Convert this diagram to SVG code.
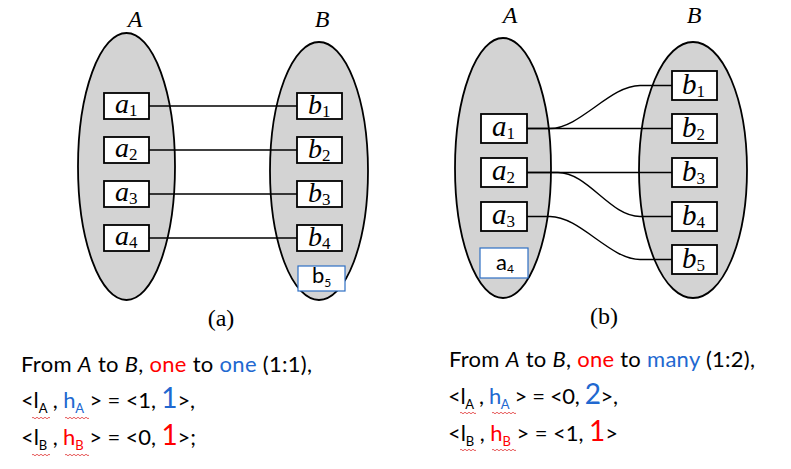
<svg xmlns="http://www.w3.org/2000/svg" width="791" height="469" viewBox="0 0 791 469">
<style>
.set{fill:#d3d3d3;stroke:#000;stroke-width:1.8}
.box{fill:#fff;stroke:#000;stroke-width:1.8}
.bbox{fill:#fff;stroke:#2e6fc4;stroke-width:1.2}
.con{fill:none;stroke:#000;stroke-width:1.4}
.math{font-family:"Liberation Serif","Times New Roman",serif;font-style:italic;fill:#000}
.sub{font-style:normal}
.cap{font-family:"Liberation Serif","Times New Roman",serif;font-size:24px;fill:#000}
.t{font-family:Lato,"Open Sans","Liberation Sans",sans-serif;font-size:22px;fill:#000;white-space:pre}
.s{font-size:13px}
.big{font-size:28px}
.i{font-style:italic}
.r{fill:#ff0000}
.b{fill:#2168d0}
.sq{fill:none;stroke:#e03030;stroke-width:0.8}
</style>
<rect width="791" height="469" fill="#fff"/>

<!-- Diagram (a) -->
<g id="setA_a"><ellipse class="set" cx="126.5" cy="166.5" rx="48.5" ry="133.5"/>
<text class="math" x="135" y="27" font-size="24" text-anchor="middle">A</text></g>
<g id="setB_a"><ellipse class="set" cx="319" cy="171" rx="49" ry="129"/>
<text class="math" x="322" y="27" font-size="24" text-anchor="middle">B</text></g>

<g id="connectors_a">
<line class="con" x1="149" y1="106" x2="297" y2="106"/>
<line class="con" x1="149" y1="150" x2="297" y2="150"/>
<line class="con" x1="149" y1="194" x2="297" y2="194"/>
<line class="con" x1="149" y1="238" x2="297" y2="238"/>
</g>

<g id="a_a1"><rect class="box" x="104" y="93" width="45" height="26"/><text class="math" x="115" y="113" font-size="28">a<tspan class="sub" font-size="17" dy="3">1</tspan></text></g>
<g id="a_a2"><rect class="box" x="104" y="137" width="45" height="26"/><text class="math" x="115" y="157" font-size="28">a<tspan class="sub" font-size="17" dy="3">2</tspan></text></g>
<g id="a_a3"><rect class="box" x="104" y="181" width="45" height="26"/><text class="math" x="115" y="201" font-size="28">a<tspan class="sub" font-size="17" dy="3">3</tspan></text></g>
<g id="a_a4"><rect class="box" x="104" y="225" width="45" height="26"/><text class="math" x="115" y="245" font-size="28">a<tspan class="sub" font-size="17" dy="3">4</tspan></text></g>
<g id="a_b1"><rect class="box" x="297" y="93" width="45" height="26"/><text class="math" x="308" y="114" font-size="28">b<tspan class="sub" font-size="17" dy="3">1</tspan></text></g>
<g id="a_b2"><rect class="box" x="297" y="137" width="45" height="26"/><text class="math" x="308" y="158" font-size="28">b<tspan class="sub" font-size="17" dy="3">2</tspan></text></g>
<g id="a_b3"><rect class="box" x="297" y="181" width="45" height="26"/><text class="math" x="308" y="202" font-size="28">b<tspan class="sub" font-size="17" dy="3">3</tspan></text></g>
<g id="a_b4"><rect class="box" x="297" y="225" width="45" height="26"/><text class="math" x="308" y="246" font-size="28">b<tspan class="sub" font-size="17" dy="3">4</tspan></text></g>
<g id="a_b5"><rect class="bbox" x="298" y="266" width="47" height="25"/><text class="t" x="312" y="283" font-size="17">b<tspan font-size="12" dy="4">5</tspan></text></g>
<text class="cap" x="221" y="326" text-anchor="middle">(a)</text>

<!-- Diagram (b) -->
<g id="setA_b"><ellipse class="set" cx="503" cy="168" rx="48" ry="130"/>
<text class="math" x="510" y="23" font-size="24" text-anchor="middle">A</text></g>
<g id="setB_b"><ellipse class="set" cx="693" cy="170" rx="54" ry="128"/>
<text class="math" x="694" y="23" font-size="24" text-anchor="middle">B</text></g>

<g id="connectors_b">
<path class="con" d="M527 128.5 H672"/>
<path class="con" d="M527 128.5 H550 C580 128.5 610 85.5 640 85.5 H672"/>
<path class="con" d="M527 172.5 H672"/>
<path class="con" d="M527 172.5 H558 C588 172.5 610 216.5 640 216.5 H672"/>
<path class="con" d="M527 216.5 H550 C580 216.5 610 259.5 640 259.5 H672"/>
</g>

<g id="b_a1"><rect class="box" x="481" y="114" width="46" height="29"/><text class="math" x="492" y="136" font-size="29">a<tspan class="sub" font-size="17" dy="3">1</tspan></text></g>
<g id="b_a2"><rect class="box" x="481" y="158" width="46" height="29"/><text class="math" x="492" y="180" font-size="29">a<tspan class="sub" font-size="17" dy="3">2</tspan></text></g>
<g id="b_a3"><rect class="box" x="481" y="202" width="46" height="29"/><text class="math" x="492" y="224" font-size="29">a<tspan class="sub" font-size="17" dy="3">3</tspan></text></g>
<g id="b_a4"><rect class="bbox" x="480" y="248" width="48" height="30"/><text class="t" x="496" y="270" font-size="17">a<tspan font-size="12" dy="3">4</tspan></text></g>
<g id="b_b1"><rect class="box" x="672" y="71" width="45" height="29"/><text class="math" x="682" y="94" font-size="29">b<tspan class="sub" font-size="17" dy="3">1</tspan></text></g>
<g id="b_b2"><rect class="box" x="672" y="114" width="45" height="29"/><text class="math" x="682" y="137" font-size="29">b<tspan class="sub" font-size="17" dy="3">2</tspan></text></g>
<g id="b_b3"><rect class="box" x="672" y="158" width="45" height="29"/><text class="math" x="682" y="181" font-size="29">b<tspan class="sub" font-size="17" dy="3">3</tspan></text></g>
<g id="b_b4"><rect class="box" x="672" y="202" width="45" height="29"/><text class="math" x="682" y="225" font-size="29">b<tspan class="sub" font-size="17" dy="3">4</tspan></text></g>
<g id="b_b5"><rect class="box" x="672" y="245" width="45" height="29"/><text class="math" x="682" y="268" font-size="29">b<tspan class="sub" font-size="17" dy="3">5</tspan></text></g>
<text class="cap" x="604" y="324" text-anchor="middle">(b)</text>

<!-- Left caption -->
<g id="caption_a">
<text class="t" x="21" y="372" textLength="291" lengthAdjust="spacing">From <tspan class="i">A</tspan> to <tspan class="i">B</tspan>, <tspan class="r">one</tspan> to <tspan class="b">one</tspan> (1:1),</text>
<text class="t" x="21" y="408" textLength="174" lengthAdjust="spacing">&lt;l<tspan class="s" dy="5">A</tspan><tspan dy="-5"> , </tspan><tspan class="b">h</tspan><tspan class="s b" dy="5">A</tspan><tspan dy="-5"> &gt; = &lt;1, </tspan><tspan class="big b">1</tspan>&gt;,</text>
<text class="t" x="21" y="445" textLength="175" lengthAdjust="spacing">&lt;l<tspan class="s" dy="5">B</tspan><tspan dy="-5"> , </tspan><tspan class="r">h</tspan><tspan class="s r" dy="5">B</tspan><tspan dy="-5"> &gt; = &lt;0, </tspan><tspan class="big r">1</tspan>&gt;;</text>
<path class="sq" d="M32 418 q1 -1.5 2 0 t2 0 t2 0 t2 0 t2 0 t2 0 t2 0 t2 0 t2 0"/>
<path class="sq" d="M65 418 q1 -1.5 2 0 t2 0 t2 0 t2 0 t2 0 t2 0 t2 0 t2 0 t2 0 t2 0 t2 0 t2 0"/>
<path class="sq" d="M32 455 q1 -1.5 2 0 t2 0 t2 0 t2 0 t2 0 t2 0 t2 0 t2 0 t2 0"/>
<path class="sq" d="M65 455 q1 -1.5 2 0 t2 0 t2 0 t2 0 t2 0 t2 0 t2 0 t2 0 t2 0 t2 0 t2 0 t2 0"/>
</g>

<!-- Right caption -->
<g id="caption_b">
<text class="t" x="449" y="367" textLength="306" lengthAdjust="spacing">From <tspan class="i">A</tspan> to <tspan class="i">B</tspan>, <tspan class="r">one</tspan> to <tspan class="b">many</tspan> (1:2),</text>
<text class="t" x="448" y="404" textLength="170" lengthAdjust="spacing">&lt;l<tspan class="s" dy="5">A</tspan><tspan dy="-5"> , </tspan><tspan class="b">h</tspan><tspan class="s b" dy="5">A</tspan><tspan dy="-5"> &gt; = &lt;0, </tspan><tspan class="big b">2</tspan>&gt;,</text>
<text class="t" x="448" y="441" textLength="170" lengthAdjust="spacing">&lt;l<tspan class="s" dy="5">B</tspan><tspan dy="-5"> , </tspan><tspan class="r">h</tspan><tspan class="s r" dy="5">B</tspan><tspan dy="-5"> &gt; = &lt;1, </tspan><tspan class="big r">1</tspan>&gt;</text>
<path class="sq" d="M460 413 q1 -1.5 2 0 t2 0 t2 0 t2 0 t2 0 t2 0 t2 0 t2 0"/>
<path class="sq" d="M492 413 q1 -1.5 2 0 t2 0 t2 0 t2 0 t2 0 t2 0 t2 0 t2 0 t2 0 t2 0 t2 0 t2 0"/>
<path class="sq" d="M460 450 q1 -1.5 2 0 t2 0 t2 0 t2 0 t2 0 t2 0 t2 0 t2 0"/>
<path class="sq" d="M492 450 q1 -1.5 2 0 t2 0 t2 0 t2 0 t2 0 t2 0 t2 0 t2 0 t2 0 t2 0 t2 0 t2 0"/>
</g>
</svg>
